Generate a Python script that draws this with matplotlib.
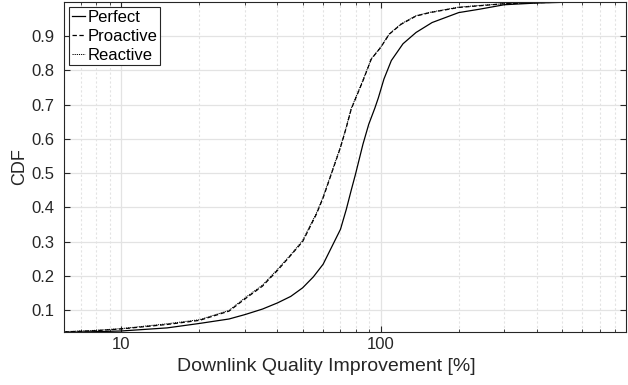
import matplotlib
matplotlib.use("Agg")
import matplotlib.pyplot as plt
from matplotlib.ticker import NullFormatter, LogLocator

plt.rcParams['font.family'] = ['Liberation Sans', 'DejaVu Sans']

# CDF curves: improvement [%] vs CDF
perfect_x = [6.0, 8, 10, 15, 20, 26, 30, 35, 40, 45, 50, 55, 60, 65.5, 70, 73.7, 77, 80,
             85.5, 90, 95, 98, 103, 110, 122, 137, 158, 200, 241, 300, 400, 500, 885]
perfect_y = [0.035, 0.037, 0.039, 0.048, 0.061, 0.074, 0.087, 0.103, 0.121, 0.14, 0.165, 0.197,
             0.234, 0.292, 0.336, 0.394, 0.45, 0.497, 0.585, 0.643, 0.69, 0.72, 0.775, 0.829,
             0.878, 0.911, 0.94, 0.969, 0.979, 0.992, 0.997, 0.999, 1.0]

proactive_x = [6.0, 8, 10, 15, 20, 26, 30, 35, 40, 45, 50, 56.5, 60, 64.5, 70, 73.7, 77,
               85.5, 92, 100, 108, 120, 137, 155, 200, 241, 300, 400, 500, 885]
proactive_y = [0.036, 0.040, 0.045, 0.058, 0.070, 0.097, 0.133, 0.17, 0.216, 0.26, 0.300,
               0.38, 0.428, 0.497, 0.575, 0.633, 0.687, 0.77, 0.833, 0.867, 0.906, 0.935,
               0.959, 0.969, 0.984, 0.989, 0.995, 0.998, 0.9995, 1.0]

reactive_x = [6.0, 8, 10, 15, 20, 26, 30, 35, 40, 45, 50, 56.5, 60, 64.5, 70, 73.7, 77,
              85.5, 92, 100, 108, 120, 137, 155, 200, 241, 300, 400, 500, 885]
reactive_y = [0.037, 0.041, 0.046, 0.060, 0.072, 0.099, 0.136, 0.173, 0.219, 0.262, 0.303,
              0.383, 0.431, 0.499, 0.577, 0.635, 0.689, 0.772, 0.834, 0.868, 0.907, 0.936,
              0.960, 0.970, 0.985, 0.990, 0.995, 0.998, 0.9995, 1.0]

fig = plt.figure(figsize=(6.28, 3.85), dpi=100)
ax = fig.add_axes([64 / 628, 53 / 385, 562 / 628, 330 / 385])

ax.plot(perfect_x, perfect_y, color='black', lw=0.9, ls='-', label='Perfect')
ax.plot(proactive_x, proactive_y, color='black', lw=0.9, ls=(0, (3.5, 2)), label='Proactive')
ax.plot(reactive_x, reactive_y, color='black', lw=0.7, ls=(0, (1.2, 1)), label='Reactive')

ax.set_xscale('log')
ax.set_xlim(6.0, 885)
ax.set_ylim(0.036, 1.0)
ax.set_yticks([0.1, 0.2, 0.3, 0.4, 0.5, 0.6, 0.7, 0.8, 0.9])
ax.set_xticks([10, 100])
ax.set_xticklabels(['10', '100'])
ax.xaxis.set_minor_locator(LogLocator(base=10, subs=range(2, 10)))
ax.xaxis.set_minor_formatter(NullFormatter())

ax.grid(True, which='major', color='#e3e3e3', lw=0.9, ls='-')
ax.grid(True, which='minor', axis='x', color='#e3e3e3', lw=0.8, ls=(0, (2, 2)))
ax.set_axisbelow(True)

for s in ax.spines.values():
    s.set_color('#262626')
    s.set_linewidth(0.8)
ax.tick_params(which='both', direction='in', top=True, right=True, colors='#262626',
               labelsize=12)
ax.tick_params(which='major', length=4)
ax.tick_params(which='minor', length=2.5)
ax.tick_params(axis='y', pad=7)

ax.set_xlabel('Downlink Quality Improvement [%]', fontsize=14, color='#262626')
ax.xaxis.set_label_coords(0.467, -0.080)
ax.set_ylabel('CDF', fontsize=13, color='#262626', labelpad=2)

leg = ax.legend(loc='upper left', fontsize=12, handlelength=0.8, handletextpad=0.15,
                labelspacing=0.25, borderpad=0.15, borderaxespad=0.3, fancybox=False,
                framealpha=1, edgecolor='#262626')
leg.get_frame().set_linewidth(0.8)

fig.savefig('out.png', dpi=100)
